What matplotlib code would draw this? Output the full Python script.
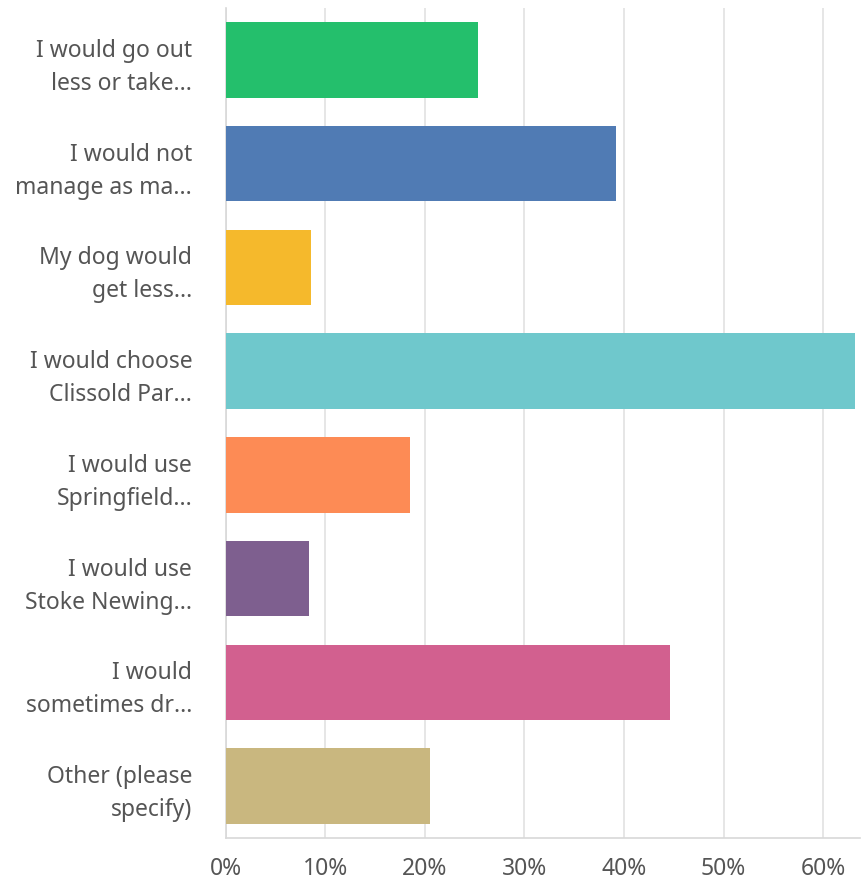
import matplotlib
matplotlib.use("Agg")
import matplotlib.pyplot as plt

categories = [
    "I would go out\nless or take...",
    "I would not\nmanage as ma...",
    "My dog would\nget less...",
    "I would choose\nClissold Par...",
    "I would use\nSpringfield...",
    "I would use\nStoke Newing...",
    "I would\nsometimes dr...",
    "Other (please\nspecify)",
]
values = [25.4, 39.2, 8.6, 63.2, 18.5, 8.4, 44.6, 20.5]
colors = ["#24bf6c", "#507bb4", "#f5b92c", "#6fc8cc", "#fd8b55", "#7e5f8f", "#d2608f", "#c9b77f"]
xticks = [0, 10, 20, 30, 40, 50, 60]
xticklabels = ["0%", "10%", "20%", "30%", "40%", "50%", "60%"]

fig = plt.figure(figsize=(8.61, 8.83), dpi=100)
ax = fig.add_axes([225.5 / 861, 1 - 838 / 883, (860 - 225.5) / 861, (838 - 8) / 883])

ypos = list(range(len(categories)))
ax.barh(ypos, values, height=0.73, color=colors, zorder=3)
ax.set_ylim(len(categories) - 0.5, -0.5)
ax.set_xlim(0, (860 - 225.5) / 9.96)

ax.set_xticks(xticks)
ax.set_xticklabels(xticklabels, fontsize=16.5, color="#555555", family="Noto Sans")
ax.set_yticks(ypos)
ax.set_yticklabels(categories, fontsize=16.5, color="#555555", family="Noto Sans", linespacing=1.5)
ax.tick_params(axis="y", length=0, pad=24)
ax.tick_params(axis="x", length=0, pad=14)

ax.grid(axis="x", color="#e2e2e2", linewidth=1.2, zorder=0)
for s in ["top", "right"]:
    ax.spines[s].set_visible(False)
ax.spines["left"].set_color("#d8d8d8")
ax.spines["bottom"].set_color("#d8d8d8")
ax.spines["left"].set_linewidth(1.2)
ax.spines["bottom"].set_linewidth(1.2)

fig.savefig("out.png", dpi=100, facecolor="white")
